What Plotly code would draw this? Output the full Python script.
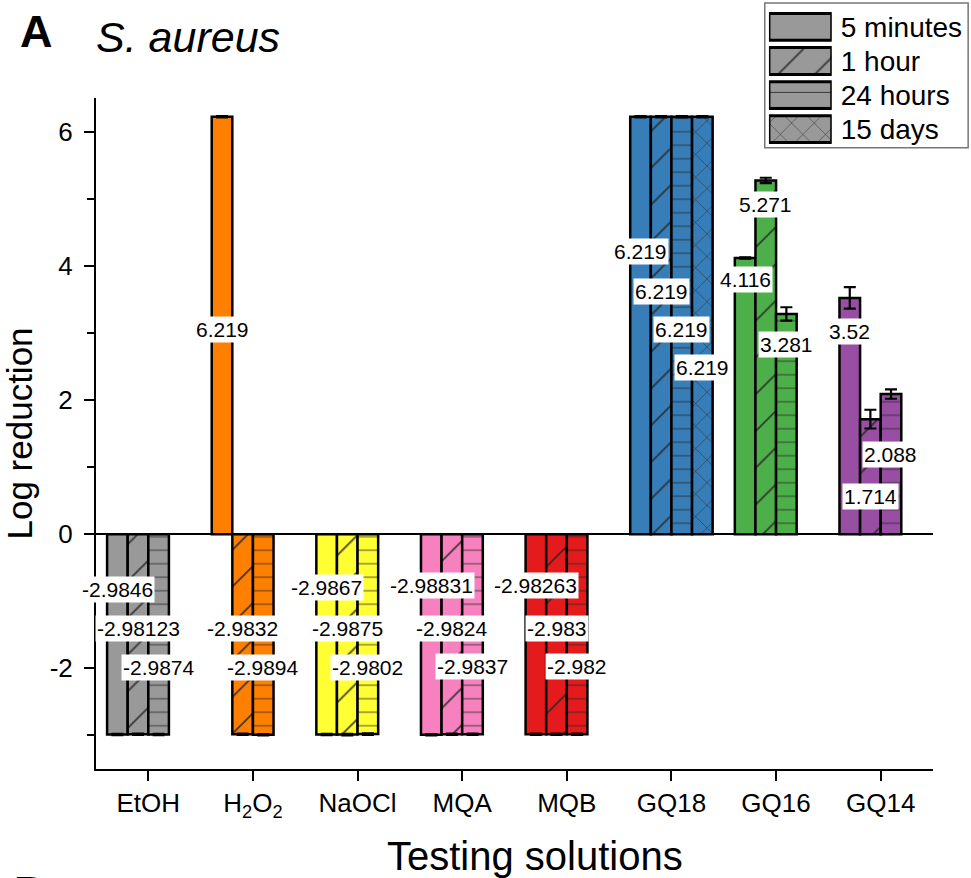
import plotly.graph_objects as go

# ---- data -------------------------------------------------------------
solutions = ["EtOH", "H<sub>2</sub>O<sub>2</sub>", "NaOCl", "MQA", "MQB", "GQ18", "GQ16", "GQ14"]
bar_colors = ["#999999", "#ff7f00", "#ffff33", "#f781bf", "#e41a1c", "#377eb8", "#4daf4a", "#984ea3"]

times = ["5 minutes", "1 hour", "24 hours", "15 days"]

lr_5min = [-2.9846, 6.219, -2.9867, -2.98831, -2.98263, 6.219, 4.116, 3.52]
lr_1h = [-2.98123, -2.9832, -2.9875, -2.9824, -2.983, 6.219, 5.271, 1.714]
lr_24h = [-2.9874, -2.9894, -2.9802, -2.9837, -2.982, 6.219, 3.281, 2.088]
lr_15d = [None, None, None, None, None, 6.219, None, None]

err_5min = [0.01, 0.01, 0.01, 0.01, 0.01, 0.01, 0.01, 0.16]
err_1h = [0.01, 0.01, 0.01, 0.01, 0.01, 0.01, 0.04, 0.14]
err_24h = [0.01, 0.01, 0.01, 0.01, 0.01, 0.01, 0.10, 0.07]
err_15d = [None, None, None, None, None, 0.01, None, None]

y_ticks = [-2, 0, 2, 4, 6]
y_ticktext = ["-2", "0", "2", "4", "6"]

# vertical placement of the value labels (data units)
lab_5min = [-0.82, 3.05, -0.79, -0.77, -0.77, 4.21, 3.79, 3.02]
lab_1h = [-1.41, -1.41, -1.41, -1.41, -1.41, 3.62, 4.91, 0.565]
lab_24h = [-1.98, -1.98, -1.98, -1.97, -1.97, 3.05, 2.83, 1.19]
lab_15d = [None, None, None, None, None, 2.485, None, None]

series = [
    (times[0], lr_5min, err_5min, lab_5min, "", 10),
    (times[1], lr_1h, err_1h, lab_1h, "/", 26),
    (times[2], lr_24h, err_24h, lab_24h, "-", 13.5),
    (times[3], lr_15d, err_15d, lab_15d, "x", 16),
]

FONT = "Liberation Sans, Arial, sans-serif"
HATCH = "#262626"
BARGAP = 0.212
slot = (1 - BARGAP) / len(series)

fig = go.Figure()
annotations = []

for k, (name, vals, errs, labs, shape, psize) in enumerate(series):
    offset = (k - (len(series) - 1) / 2) * slot
    for i, (v, e, ly) in enumerate(zip(vals, errs, labs)):
        if v is None:
            continue
        # one trace per solution so each bar keeps its own colour and hatch
        fig.add_trace(go.Bar(
            name=name,
            x=[solutions[i]],
            y=[v],
            offsetgroup=str(k),
            marker=dict(
                color=bar_colors[i],
                line=dict(color="black", width=2.5),
                pattern=dict(shape=shape, size=psize, solidity=0.07,
                             fgcolor=HATCH, fgopacity=0.85),
            ),
            error_y=dict(type="data", array=[e], visible=True,
                         color="black", thickness=2.2, width=6),
            showlegend=False,
        ))
        annotations.append(dict(
            x=i + offset, y=ly, xref="x", yref="y",
            xanchor="center", yanchor="middle",
            text=str(v), showarrow=False,
            font=dict(family=FONT, size=21, color="black"),
            bgcolor="white", borderpad=1,
        ))

# key drawn as a small inset of patterned bars
for t, shape, psize in zip(times, ["", "/", "-", "x"], [10, 26, 15, 16]):
    fig.add_trace(go.Bar(
        x=[1], y=[t], orientation="h",
        xaxis="x2", yaxis="y2", offsetgroup="key",
        marker=dict(
            color="#999999",
            line=dict(color="black", width=3),
            pattern=dict(shape=shape, size=psize, solidity=0.07,
                         fgcolor=HATCH, fgopacity=0.85),
        ),
        showlegend=False, hoverinfo="skip",
    ))

# panel heading, axis title and the edge of the next panel
annotations += [
    dict(x=-0.071, y=0.963, xref="paper", yref="paper", text="<b>A</b>",
         xanchor="center", yanchor="middle", showarrow=False,
         font=dict(family=FONT, size=45, color="black")),
    dict(x=-0.002, y=0.955, xref="paper", yref="paper", text="<i>S. aureus</i>",
         xanchor="left", yanchor="middle", showarrow=False,
         font=dict(family=FONT, size=43, color="black")),
    dict(x=0.525, y=-0.113, xref="paper", yref="paper", text="Testing solutions",
         xanchor="center", yanchor="middle", showarrow=False,
         font=dict(family=FONT, size=40, color="black")),
    dict(x=-0.1, y=-0.127, xref="paper", yref="paper", text="<b>B</b>",
         xanchor="left", yanchor="top", showarrow=False,
         font=dict(family=FONT, size=42, color="black")),
]

fig.update_layout(
    width=971, height=878,
    margin=dict(l=96, r=38, t=3, b=109),
    paper_bgcolor="white", plot_bgcolor="white",
    barmode="group", bargap=BARGAP, bargroupgap=0,
    font=dict(family=FONT, color="black"),
    annotations=annotations,
    xaxis=dict(
        range=[-0.5, 7.5], showline=True, linecolor="black", linewidth=2,
        ticks="outside", ticklen=10, tickwidth=2, tickcolor="black",
        tickfont=dict(size=26), showgrid=False, zeroline=False,
        categoryorder="array", categoryarray=solutions,
    ),
    yaxis=dict(
        domain=[0, 0.876],
        range=[-3.5, 6.5], tickmode="array", tickvals=y_ticks, ticktext=y_ticktext,
        showline=True, linecolor="black", linewidth=2,
        ticks="outside", ticklen=10, tickwidth=2, tickcolor="black",
        ticklabelstandoff=6,
        minor=dict(dtick=1, tick0=0, ticks="outside", ticklen=7, tickwidth=2,
                   tickcolor="black"),
        tickfont=dict(size=26), showgrid=False,
        zeroline=True, zerolinecolor="black", zerolinewidth=2,
        title=dict(text="Log reduction", font=dict(size=35), standoff=7),
    ),
    xaxis2=dict(domain=[0.804, 0.879], range=[0, 1], anchor="y2",
                visible=False, fixedrange=True),
    yaxis2=dict(domain=[0.813, 0.991], anchor="x2", side="right",
                autorange="reversed", showline=False, showgrid=False,
                zeroline=False, ticks="", tickfont=dict(size=28),
                ticklabelstandoff=8, categoryorder="array", categoryarray=times),
    shapes=[dict(type="rect", xref="paper", yref="paper",
                 x0=0.799, x1=1.042, y0=0.811, y1=1.0,
                 line=dict(color="#777777", width=1.5), fillcolor="rgba(0,0,0,0)",
                 layer="below")],
)

fig.write_html("out.html")
